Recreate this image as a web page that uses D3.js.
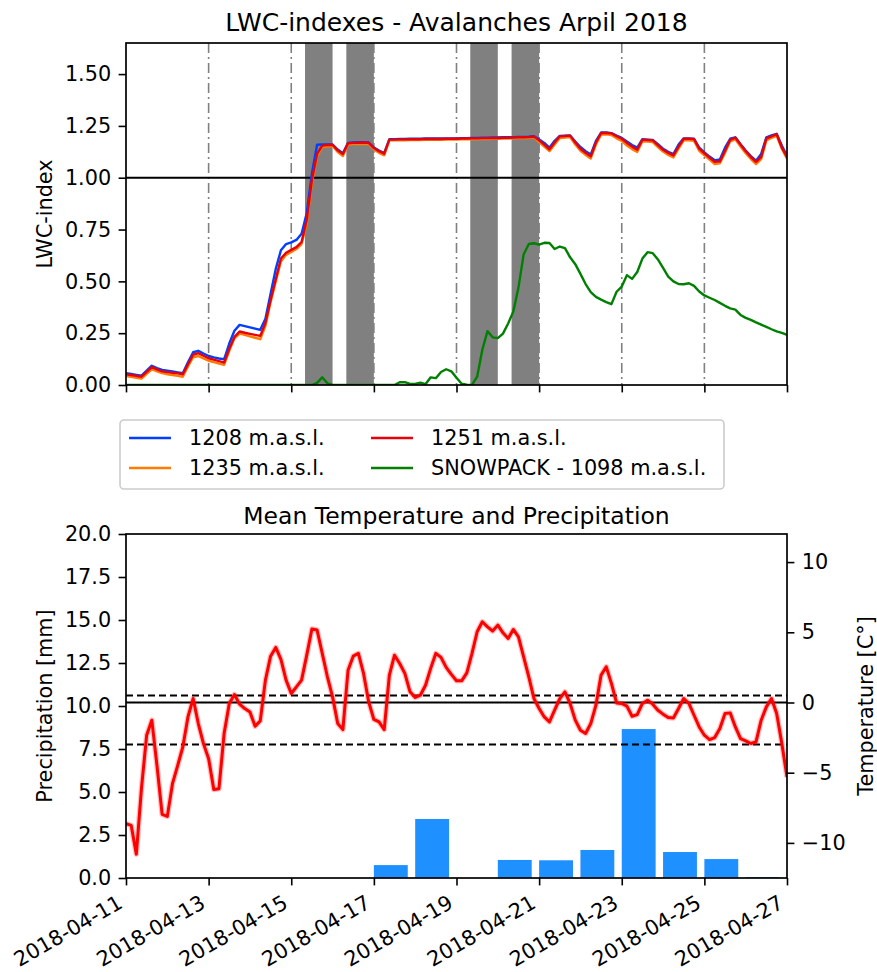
<!DOCTYPE html>
<html>
<head>
<meta charset="utf-8">
<script src="https://cdn.jsdelivr.net/npm/d3@7"></script>
<style>
  body { margin: 0; background: #fff; }
  svg { display: block; font-family: "DejaVu Sans", sans-serif; }
</style>
</head>
<body>
<svg id="chart" width="877" height="972"></svg>
<script>
// ---- data -------------------------------------------------------------
// all hourly series are sampled every 3 hours from 2018-04-11 00:00 UTC
const seriesStart = "2018-04-11T00:00:00Z";
const stepHours = 3;

const lwc1208 = [
  0.057, 0.053, 0.049, 0.045, 0.069, 0.093, 0.082, 0.073, 0.069, 0.065,
  0.061, 0.057, 0.110, 0.158, 0.165, 0.152, 0.140, 0.133, 0.128, 0.124,
  0.200, 0.262, 0.290, 0.284, 0.278, 0.272, 0.266, 0.320, 0.440, 0.560,
  0.650, 0.680, 0.688, 0.700, 0.730, 0.830, 1.020, 1.159, 1.160, 1.160,
  1.160, 1.136, 1.118, 1.168, 1.170, 1.171, 1.172, 1.170, 1.146, 1.131,
  1.119, 1.186, 1.186, 1.187, 1.187, 1.188, 1.188, 1.188, 1.189, 1.189,
  1.189, 1.189, 1.190, 1.190, 1.190, 1.191, 1.191, 1.192, 1.192, 1.193,
  1.193, 1.194, 1.194, 1.195, 1.195, 1.196, 1.197, 1.197, 1.198, 1.200,
  1.185, 1.168, 1.145, 1.178, 1.202, 1.203, 1.204, 1.175, 1.148, 1.128,
  1.112, 1.178, 1.218, 1.218, 1.215, 1.203, 1.192, 1.175, 1.158, 1.145,
  1.186, 1.184, 1.182, 1.162, 1.140, 1.125, 1.114, 1.160, 1.190, 1.190,
  1.188, 1.145, 1.122, 1.102, 1.084, 1.088, 1.145, 1.188, 1.195, 1.162,
  1.131, 1.104, 1.082, 1.115, 1.195, 1.204, 1.212, 1.155, 1.105
];

const lwc1235 = [
  0.043, 0.039, 0.035, 0.031, 0.054, 0.076, 0.066, 0.057, 0.052, 0.048,
  0.044, 0.040, 0.090, 0.134, 0.140, 0.128, 0.117, 0.110, 0.103, 0.097,
  0.165, 0.225, 0.248, 0.242, 0.235, 0.228, 0.221, 0.285, 0.400, 0.500,
  0.596, 0.628, 0.642, 0.656, 0.680, 0.780, 0.975, 1.105, 1.148, 1.152,
  1.153, 1.124, 1.105, 1.160, 1.162, 1.163, 1.164, 1.162, 1.136, 1.120,
  1.108, 1.180, 1.180, 1.181, 1.181, 1.182, 1.182, 1.182, 1.183, 1.183,
  1.183, 1.183, 1.184, 1.184, 1.184, 1.185, 1.185, 1.186, 1.186, 1.187,
  1.187, 1.188, 1.188, 1.189, 1.189, 1.190, 1.191, 1.191, 1.192, 1.195,
  1.172, 1.150, 1.128, 1.160, 1.192, 1.194, 1.196, 1.160, 1.130, 1.110,
  1.093, 1.160, 1.208, 1.209, 1.206, 1.190, 1.178, 1.155, 1.138, 1.124,
  1.176, 1.174, 1.172, 1.148, 1.126, 1.110, 1.098, 1.140, 1.180, 1.180,
  1.178, 1.130, 1.108, 1.087, 1.066, 1.070, 1.120, 1.176, 1.185, 1.150,
  1.118, 1.090, 1.066, 1.090, 1.180, 1.192, 1.202, 1.140, 1.090
];

const lwc1251 = [
  0.052, 0.048, 0.044, 0.040, 0.063, 0.086, 0.075, 0.066, 0.062, 0.059,
  0.056, 0.052, 0.100, 0.146, 0.154, 0.141, 0.129, 0.122, 0.115, 0.108,
  0.175, 0.232, 0.258, 0.252, 0.247, 0.242, 0.237, 0.300, 0.410, 0.510,
  0.610, 0.638, 0.652, 0.665, 0.690, 0.797, 0.990, 1.115, 1.155, 1.158,
  1.159, 1.132, 1.114, 1.166, 1.168, 1.169, 1.170, 1.168, 1.143, 1.128,
  1.116, 1.184, 1.184, 1.185, 1.185, 1.186, 1.186, 1.186, 1.187, 1.187,
  1.187, 1.187, 1.188, 1.188, 1.188, 1.189, 1.189, 1.190, 1.190, 1.191,
  1.191, 1.192, 1.192, 1.193, 1.193, 1.194, 1.195, 1.195, 1.196, 1.199,
  1.180, 1.160, 1.137, 1.170, 1.200, 1.201, 1.203, 1.170, 1.140, 1.120,
  1.103, 1.170, 1.216, 1.216, 1.214, 1.200, 1.188, 1.168, 1.150, 1.135,
  1.184, 1.182, 1.180, 1.157, 1.135, 1.120, 1.108, 1.150, 1.188, 1.188,
  1.186, 1.140, 1.118, 1.097, 1.077, 1.079, 1.130, 1.183, 1.193, 1.160,
  1.128, 1.100, 1.077, 1.100, 1.190, 1.200, 1.210, 1.145, 1.100
];

const lwcSnowpack = [
  0, 0, 0, 0, 0, 0, 0, 0, 0, 0,
  0, 0, 0, 0, 0, 0, 0, 0, 0, 0,
  0, 0, 0, 0, 0, 0, 0, 0, 0, 0,
  0, 0, 0, 0, 0, 0, 0, 0.010, 0.037, 0.008,
  0, 0, 0, 0, 0, 0, 0, 0, 0, 0,
  0, 0, 0, 0.013, 0.014, 0.005, 0.005, 0.011, 0.004, 0.037,
  0.033, 0.063, 0.076, 0.066, 0.035, 0.006, 0.002, 0.000, 0.040, 0.170,
  0.260, 0.230, 0.226, 0.248, 0.297, 0.354, 0.470, 0.630, 0.680, 0.684,
  0.677, 0.686, 0.685, 0.656, 0.668, 0.660, 0.616, 0.583, 0.536, 0.487,
  0.448, 0.425, 0.412, 0.400, 0.390, 0.450, 0.475, 0.530, 0.512, 0.545,
  0.610, 0.641, 0.636, 0.606, 0.565, 0.523, 0.500, 0.487, 0.486, 0.491,
  0.478, 0.451, 0.432, 0.421, 0.410, 0.396, 0.382, 0.370, 0.364, 0.338,
  0.324, 0.314, 0.302, 0.291, 0.280, 0.269, 0.259, 0.251, 0.242
];

const meanTemperature = [
  -8.63, -8.75, -10.8, -6.1, -2.33, -1.26, -4.5, -7.97, -8.11, -5.78,
  -4.5, -3.17, -1.03, 0.28, -1.5, -2.93, -4.0, -6.2, -6.14, -2.21,
  -0.07, 0.57, -0.12, -0.43, -0.67, -1.69, -1.31, 1.59, 3.3, 3.92,
  3.07, 1.59, 0.64, 1.11, 1.59, 3.37, 5.23, 5.16, 3.5, 1.83,
  0.4, -1.5, -1.93, 2.3, 3.3, 3.5, 2.07, 0.04, -1.21, -1.38,
  -1.93, 1.95, 3.37, 2.78, 2.07, 0.76, 0.36, 0.52, 1.23, 2.43,
  3.5, 3.21, 2.5, 2.0, 1.55, 1.54, 2.11, 3.5, 5.04, 5.75,
  5.39, 5.09, 5.51, 4.96, 4.56, 5.2, 4.68, 3.25, 1.83, 0.28,
  -0.43, -1.03, -1.38, -0.55, 0.28, 0.76, -0.07, -1.26, -1.98, -2.21,
  -1.5, -0.19, 1.95, 2.54, 1.36, -0.03, -0.07, -0.26, -0.98, -0.86,
  -0.07, 0.16, -0.12, -0.55, -0.83, -1.07, -1.1, -0.43, 0.28, -0.07,
  -0.91, -1.74, -2.33, -2.64, -2.5, -1.85, -0.78, -0.74, -1.74, -2.57,
  -2.74, -2.92, -2.81, -1.26, -0.31, 0.28, -0.78, -2.92, -5.31
];

// daily precipitation
const precipDays = ["2018-04-11", "2018-04-12", "2018-04-13", "2018-04-14", "2018-04-15",
  "2018-04-16", "2018-04-17", "2018-04-18", "2018-04-19", "2018-04-20", "2018-04-21",
  "2018-04-22", "2018-04-23", "2018-04-24", "2018-04-25", "2018-04-26"];
const precipMm = [0, 0, 0, 0, 0, 0, 0.75, 3.43, 0, 1.05, 1.03, 1.63, 8.66, 1.51, 1.10, 0.05];

// avalanche periods
const avalancheStart = ["2018-04-15T08:00:00Z", "2018-04-16T08:00:00Z", "2018-04-19T08:00:00Z", "2018-04-20T08:00:00Z"];
const avalancheEnd   = ["2018-04-16T00:00:00Z", "2018-04-17T00:00:00Z", "2018-04-20T00:00:00Z", "2018-04-21T00:00:00Z"];

const tickDates = ["2018-04-11", "2018-04-13", "2018-04-15", "2018-04-17", "2018-04-19",
  "2018-04-21", "2018-04-23", "2018-04-25", "2018-04-27"];
const lwcTicks = [0, 0.25, 0.5, 0.75, 1.0, 1.25, 1.5];
const precipTicks = [0, 2.5, 5, 7.5, 10, 12.5, 15, 17.5, 20];
const tempTicks = [-10, -5, 0, 5, 10];
const tempReferenceLevels = [0.5, -3];

const seriesNames = ["1208 m.a.s.l.", "1235 m.a.s.l.", "1251 m.a.s.l.", "SNOWPACK - 1098 m.a.s.l."];

// ---- setup ------------------------------------------------------------
const svg = d3.select("#chart");
const FS = 20.8;
const TICK = 7.4, PAD = 7.4;
const colors = { b: "#023eff", o: "#ff7c00", r: "#e8000b", g: "#008000" };

const t0 = new Date(seriesStart);
const times = lwc1251.map((_, i) => new Date(t0.getTime() + i * stepHours * 3600e3));
const day = s => new Date(s + "T00:00:00Z");

const left = 126, right = 787;
const top1 = 43, bot1 = 385;
const top2 = 534, bot2 = 878;

const x = d3.scaleUtc().domain([day("2018-04-11"), day("2018-04-27")]).range([left, right]);
const yL = d3.scaleLinear().domain([0, 1.65]).range([bot1, top1]);
const yP = d3.scaleLinear().domain([0, 20]).range([bot2, top2]);
const yT = d3.scaleLinear().domain([-12.5, 12]).range([bot2, top2]);

const defs = svg.append("defs");
defs.append("clipPath").attr("id", "clip1").append("rect")
  .attr("x", left).attr("y", top1).attr("width", right - left).attr("height", bot1 - top1);
defs.append("clipPath").attr("id", "clip2").append("rect")
  .attr("x", left).attr("y", top2).attr("width", right - left).attr("height", bot2 - top2);

function styleAxis(g) {
  g.selectAll(".domain").remove();
  g.selectAll(".tick line").attr("stroke", "#000").attr("stroke-width", 1.6);
  g.selectAll(".tick text").attr("fill", "#000").attr("font-size", FS)
    .attr("font-family", "DejaVu Sans, sans-serif");
}
const fmtMinus = f => v => f(v).replace("-", "\u2212");

// ---- top panel: LWC indexes ------------------------------------------
const p1 = svg.append("g").attr("clip-path", "url(#clip1)");

p1.selectAll("rect.aval").data(avalancheStart).join("rect")
  .attr("class", "aval")
  .attr("x", (d) => x(new Date(d)))
  .attr("width", (d, i) => x(new Date(avalancheEnd[i])) - x(new Date(d)))
  .attr("y", top1).attr("height", bot1 - top1)
  .attr("fill", "#808080");

p1.selectAll("line.vgrid").data(tickDates.slice(1, -1)).join("line")
  .attr("class", "vgrid")
  .attr("x1", d => x(day(d))).attr("x2", d => x(day(d)))
  .attr("y1", top1).attr("y2", bot1)
  .attr("stroke", "#808080").attr("stroke-width", 1.6)
  .attr("stroke-dasharray", "10,4,2,4");

p1.append("line")
  .attr("x1", left).attr("x2", right).attr("y1", yL(1)).attr("y2", yL(1))
  .attr("stroke", "#000").attr("stroke-width", 2);

const lwcLine = d3.line().x((d, i) => x(times[i])).y(d => yL(d));
[[lwc1208, colors.b], [lwc1235, colors.o], [lwc1251, colors.r], [lwcSnowpack, colors.g]]
  .forEach(([vals, c]) => {
    p1.append("path").datum(vals).attr("d", lwcLine)
      .attr("fill", "none").attr("stroke", c).attr("stroke-width", 2.4)
      .attr("stroke-linejoin", "round");
  });

svg.append("rect").attr("x", left).attr("y", top1)
  .attr("width", right - left).attr("height", bot1 - top1)
  .attr("fill", "none").attr("stroke", "#000").attr("stroke-width", 1.7);

svg.append("g").attr("transform", `translate(${left},0)`)
  .call(d3.axisLeft(yL).tickValues(lwcTicks).tickFormat(d3.format(".2f"))
    .tickSize(TICK).tickPadding(PAD))
  .call(styleAxis);

svg.append("g").attr("transform", `translate(0,${bot1})`)
  .call(d3.axisBottom(x).tickValues(tickDates.map(day)).tickFormat("")
    .tickSize(TICK))
  .call(styleAxis);

svg.append("text").attr("x", (left + right) / 2).attr("y", 31)
  .attr("text-anchor", "middle").attr("font-size", 25)
  .text("LWC-indexes - Avalanches Arpil 2018");

svg.append("text")
  .attr("transform", `translate(45,${(top1 + bot1) / 2}) rotate(-90)`)
  .attr("text-anchor", "middle").attr("dy", "0.35em").attr("font-size", FS)
  .text("LWC-index");

// ---- legend -------------------------------------------------------------
const legend = svg.append("g");
legend.append("rect").attr("x", 120).attr("y", 420).attr("width", 604).attr("height", 69)
  .attr("rx", 4).attr("fill", "#fff").attr("fill-opacity", 0.8)
  .attr("stroke", "#cccccc").attr("stroke-width", 1.6);
const legendItems = [
  { name: seriesNames[0], c: colors.b, col: 0, row: 0 },
  { name: seriesNames[1], c: colors.o, col: 0, row: 1 },
  { name: seriesNames[2], c: colors.r, col: 1, row: 0 },
  { name: seriesNames[3], c: colors.g, col: 1, row: 1 }
];
const colX = [129, 371];
const rowY = [438, 468];
legendItems.forEach(it => {
  const lx = colX[it.col], ly = rowY[it.row];
  legend.append("line").attr("x1", lx).attr("x2", lx + 42).attr("y1", ly).attr("y2", ly)
    .attr("stroke", it.c).attr("stroke-width", 2.4);
  legend.append("text").attr("x", lx + 60).attr("y", ly).attr("dy", "0.36em")
    .attr("font-size", FS).text(it.name);
});

// ---- bottom panel: temperature and precipitation ----------------------
const p2 = svg.append("g").attr("clip-path", "url(#clip2)");

const barWidthDays = 0.82;
p2.selectAll("rect.bar").data(precipMm).join("rect")
  .attr("class", "bar")
  .attr("x", (d, i) => x(day(precipDays[i])))
  .attr("width", (d, i) => x(new Date(day(precipDays[i]).getTime() + barWidthDays * 864e5)) - x(day(precipDays[i])))
  .attr("y", d => yP(d)).attr("height", d => yP(0) - yP(d))
  .attr("fill", "#1e90ff");

p2.append("line")
  .attr("x1", left).attr("x2", right).attr("y1", yT(0)).attr("y2", yT(0))
  .attr("stroke", "#000").attr("stroke-width", 2);
p2.selectAll("line.ref").data(tempReferenceLevels).join("line")
  .attr("class", "ref")
  .attr("x1", left).attr("x2", right).attr("y1", d => yT(d)).attr("y2", d => yT(d))
  .attr("stroke", "#000").attr("stroke-width", 2).attr("stroke-dasharray", "7,4");

const tLine = d3.line().x((d, i) => x(times[i])).y(d => yT(d));
p2.append("path").datum(meanTemperature).attr("d", tLine)
  .attr("fill", "none").attr("stroke", "#ff0000").attr("stroke-opacity", 0.25)
  .attr("stroke-width", 5.5).attr("stroke-linejoin", "round");
p2.append("path").datum(meanTemperature).attr("d", tLine)
  .attr("fill", "none").attr("stroke", "#ff0000").attr("stroke-width", 3)
  .attr("stroke-linejoin", "round");

svg.append("rect").attr("x", left).attr("y", top2)
  .attr("width", right - left).attr("height", bot2 - top2)
  .attr("fill", "none").attr("stroke", "#000").attr("stroke-width", 1.7);

svg.append("g").attr("transform", `translate(${left},0)`)
  .call(d3.axisLeft(yP).tickValues(precipTicks).tickFormat(d3.format(".1f"))
    .tickSize(TICK).tickPadding(PAD))
  .call(styleAxis);

svg.append("g").attr("transform", `translate(${right},0)`)
  .call(d3.axisRight(yT).tickValues(tempTicks).tickFormat(fmtMinus(d3.format("d")))
    .tickSize(TICK).tickPadding(PAD))
  .call(styleAxis);

const xAxis2 = svg.append("g").attr("transform", `translate(0,${bot2})`)
  .call(d3.axisBottom(x).tickValues(tickDates.map(day)).tickFormat(d3.utcFormat("%Y-%m-%d"))
    .tickSize(TICK).tickPadding(PAD))
  .call(styleAxis);
xAxis2.selectAll(".tick text")
  .attr("text-anchor", "end").attr("dy", null).attr("y", null)
  .attr("transform", `translate(-2.5,${TICK + PAD + 14}) rotate(-30)`);

svg.append("text").attr("x", (left + right) / 2).attr("y", 524)
  .attr("text-anchor", "middle").attr("font-size", 23.5)
  .text("Mean Temperature and Precipitation");

svg.append("text")
  .attr("transform", `translate(45,${(top2 + bot2) / 2}) rotate(-90)`)
  .attr("text-anchor", "middle").attr("dy", "0.35em").attr("font-size", FS)
  .text("Precipitation [mm]");

svg.append("text")
  .attr("transform", `translate(866,${(top2 + bot2) / 2}) rotate(-90)`)
  .attr("text-anchor", "middle").attr("dy", "0.35em").attr("font-size", FS)
  .text("Temperature [C°]");
</script>
</body>
</html>
